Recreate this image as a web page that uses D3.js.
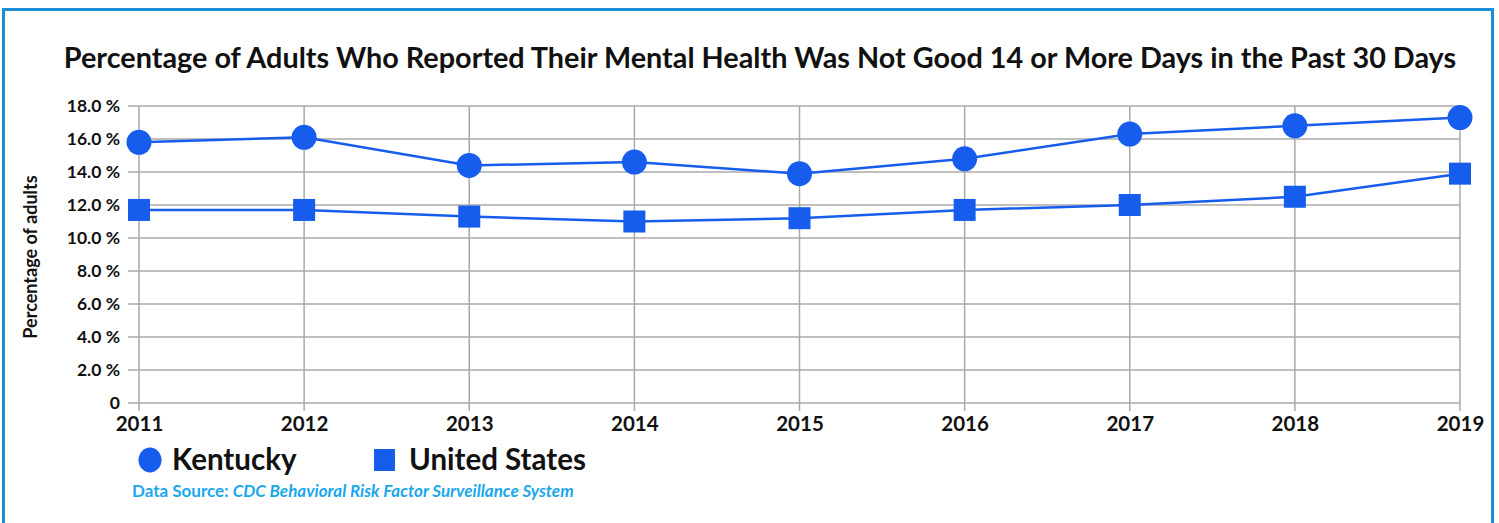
<!DOCTYPE html>
<html><head><meta charset="utf-8">
<script src="https://cdn.jsdelivr.net/npm/d3@7"></script>
<style>body{margin:0;background:#fff}svg{display:block}</style>
</head><body>
<svg id="c" width="1499" height="523"></svg>
<script>
const years = [2011,2012,2013,2014,2015,2016,2017,2018,2019];
const kentucky = [15.8,16.1,14.4,14.6,13.9,14.8,16.3,16.8,17.3];
const unitedStates = [11.7,11.7,11.3,11.0,11.2,11.7,12.0,12.5,13.9];
const yTicks = [0,2,4,6,8,10,12,14,16,18];
const yTickLabels = ["0","2.0 %","4.0 %","6.0 %","8.0 %","10.0 %","12.0 %","14.0 %","16.0 %","18.0 %"];

const svg = d3.select("#c");
const font = "Lato, 'Open Sans', sans-serif";
const blue = "#165ced";

// border
svg.append("rect").attr("x",3.5).attr("y",9.5).attr("width",1489).attr("height",530)
  .attr("fill","none").attr("stroke","#1b8fd6").attr("stroke-width",3);

const x = d3.scalePoint().domain(years).range([139,1460]);
const y = d3.scaleLinear().domain([0,18]).range([403,106]);

// grid
const g = svg.append("g");
g.selectAll("line.h").data(yTicks).join("line")
  .attr("x1",128).attr("x2",1460).attr("y1",d=>y(d)).attr("y2",d=>y(d))
  .attr("stroke","#aaaaaa").attr("stroke-width",1.5);
g.selectAll("line.v").data(years).join("line")
  .attr("x1",d=>x(d)).attr("x2",d=>x(d)).attr("y1",106).attr("y2",411)
  .attr("stroke","#aaaaaa").attr("stroke-width",1.5);

// axes labels
const yAxis = d3.axisLeft(y).tickValues(yTicks).tickFormat((d,i)=>yTickLabels[i]).tickSize(0).tickPadding(0);
const ya = svg.append("g").attr("transform","translate(120,0)").call(yAxis);
ya.select(".domain").remove();
ya.selectAll("text").attr("font-family",font).attr("font-weight","bold").attr("font-size",17.5).attr("fill","#111");

const xAxis = d3.axisBottom(x).tickSize(0).tickPadding(0);
const xa = svg.append("g").attr("transform","translate(0,414)").call(xAxis);
xa.select(".domain").remove();
xa.selectAll("text").attr("font-family",font).attr("font-weight","bold").attr("font-size",20.5).attr("fill","#111").attr("dy","0.85em");

// title
svg.append("text").attr("x",760).attr("y",68).attr("text-anchor","middle")
  .attr("font-family",font).attr("font-weight","bold").attr("font-size",28.8).attr("fill","#111")
  .text("Percentage of Adults Who Reported Their Mental Health Was Not Good 14 or More Days in the Past 30 Days");

// y title
svg.append("text").attr("transform","translate(37,257) rotate(-90)").attr("text-anchor","middle")
  .attr("font-family",font).attr("font-weight","bold").attr("font-size",18).attr("fill","#111")
  .text("Percentage of adults");

// lines
const line = d3.line().x((d,i)=>x(years[i])).y(d=>y(d));
svg.append("path").datum(kentucky).attr("d",line).attr("fill","none").attr("stroke",blue).attr("stroke-width",2.5);
svg.append("path").datum(unitedStates).attr("d",line).attr("fill","none").attr("stroke",blue).attr("stroke-width",2.5);

svg.selectAll("circle.k").data(kentucky).join("circle")
  .attr("cx",(d,i)=>x(years[i])).attr("cy",d=>y(d)).attr("r",12.5).attr("fill",blue);
svg.selectAll("rect.u").data(unitedStates).join("rect")
  .attr("x",(d,i)=>x(years[i])-11).attr("y",d=>y(d)-11).attr("width",22).attr("height",22).attr("fill",blue);

// legend
svg.append("ellipse").attr("cx",150).attr("cy",460).attr("rx",11.5).attr("ry",12.5).attr("fill",blue);
svg.append("text").attr("x",172).attr("y",470).attr("font-family",font).attr("font-weight","bold").attr("font-size",29.5).attr("fill","#111").text("Kentucky");
svg.append("rect").attr("x",374).attr("y",449).attr("width",21).attr("height",22).attr("fill",blue);
svg.append("text").attr("x",409).attr("y",470).attr("font-family",font).attr("font-weight","bold").attr("font-size",29.5).attr("fill","#111").text("United States");

const src = svg.append("text").attr("x",132).attr("y",497).attr("font-family",font).attr("font-weight","bold").attr("font-size",17).attr("fill","#1aa7ec");
src.append("tspan").text("Data Source: ");
src.append("tspan").attr("font-style","italic").text("CDC Behavioral Risk Factor Surveillance System");
</script>
</body></html>
